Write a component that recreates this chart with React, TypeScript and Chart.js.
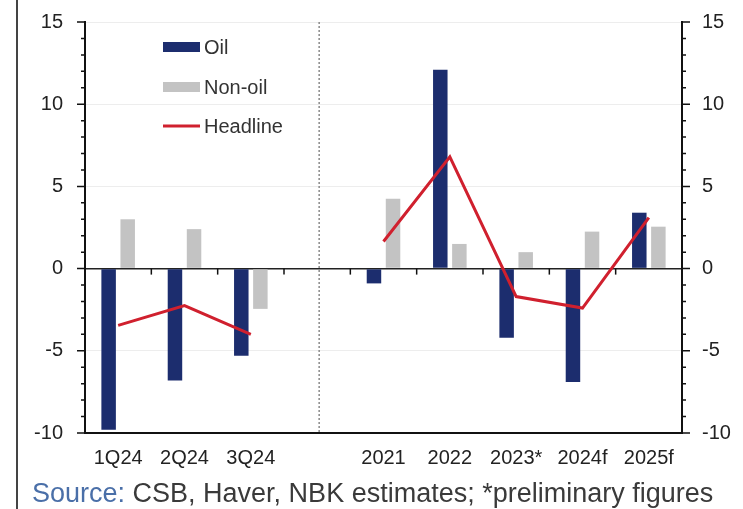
import React, { useEffect, useRef } from 'react';
import { Chart, registerables } from 'chart.js';

Chart.register(...registerables);

const categories = ['1Q24', '2Q24', '3Q24', '', '2021', '2022', '2023*', '2024f', '2025f'];
const oilValues = [-9.8, -6.8, -5.3, null, -0.9, 12.1, -4.2, -6.9, 3.4];
const nonOilValues = [3.0, 2.4, -2.45, null, 4.25, 1.5, 1.0, 2.25, 2.55];
const headlineValues = [-3.45, -2.25, -4.0, null, 1.65, 6.8, -1.7, -2.4, 3.1];
const seriesLabels = ['Oil', 'Non-oil', 'Headline'];
const yMin = -10;
const yMax = 15;
const yStep = 5;
const sourceLabel = 'Source:';
const sourceText = ' CSB, Haver, NBK estimates; *preliminary figures';

const FONT = '"Liberation Sans", Arial, Helvetica, sans-serif';
const OIL = '#1c2d6e';
const NONOIL = '#c3c3c3';
const HEAD = '#d0202e';

const decorPlugin = {
  id: 'decor',
  beforeDatasetsDraw(chart: any) {
    const { ctx, chartArea, scales } = chart;
    const x = scales.x;
    const sepIdx = categories.indexOf('');
    if (sepIdx >= 0) {
      const px = x.getPixelForValue(sepIdx) + 2;
      ctx.save();
      ctx.strokeStyle = '#8a8a8a';
      ctx.lineWidth = 1.5;
      ctx.setLineDash([2, 2]);
      ctx.beginPath();
      ctx.moveTo(px, chartArea.top);
      ctx.lineTo(px, chartArea.bottom);
      ctx.stroke();
      ctx.restore();
    }
  },
  afterDraw(chart: any) {
    const { ctx, chartArea, scales } = chart;
    const y = scales.y;
    const x = scales.x;
    ctx.save();
    ctx.strokeStyle = '#111';
    ctx.lineWidth = 1.5;
    for (let v = yMin; v <= yMax; v += 1) {
      const py = y.getPixelForValue(v);
      const len = v % yStep === 0 ? 8 : 4;
      ctx.beginPath();
      ctx.moveTo(chartArea.left - len, py);
      ctx.lineTo(chartArea.left, py);
      ctx.moveTo(chartArea.right, py);
      ctx.lineTo(chartArea.right + len, py);
      ctx.stroke();
    }
    const zy = y.getPixelForValue(0);
    for (let i = 1; i < categories.length; i++) {
      const bx = (x.getPixelForValue(i - 1) + x.getPixelForValue(i)) / 2;
      ctx.beginPath();
      ctx.moveTo(bx, zy);
      ctx.lineTo(bx, zy + 6);
      ctx.stroke();
    }
    ctx.restore();

    const lx = chartArea.left + 78;
    const rows = [
      { label: seriesLabels[0], color: OIL, kind: 'box', y: 47 },
      { label: seriesLabels[1], color: NONOIL, kind: 'box', y: 87 },
      { label: seriesLabels[2], color: HEAD, kind: 'line', y: 126 },
    ];
    ctx.save();
    ctx.font = `20px ${FONT}`;
    ctx.textBaseline = 'middle';
    ctx.textAlign = 'left';
    rows.forEach((r) => {
      if (r.kind === 'box') {
        ctx.fillStyle = r.color;
        ctx.fillRect(lx, r.y - 5, 37, 10);
      } else {
        ctx.strokeStyle = r.color;
        ctx.lineWidth = 3;
        ctx.beginPath();
        ctx.moveTo(lx, r.y);
        ctx.lineTo(lx + 37, r.y);
        ctx.stroke();
      }
      ctx.fillStyle = '#333';
      ctx.fillText(r.label, lx + 41, r.y + 1);
    });
    ctx.restore();
  },
};

export default function App() {
  const canvasRef = useRef<HTMLCanvasElement | null>(null);

  useEffect(() => {
    if (!canvasRef.current) return;
    const tickFont = { family: FONT, size: 20 };
    const chart = new Chart(canvasRef.current, {
      type: 'bar',
      data: {
        labels: categories,
        datasets: [
          {
            type: 'line',
            label: seriesLabels[2],
            data: headlineValues,
            borderColor: HEAD,
            backgroundColor: HEAD,
            borderWidth: 3,
            pointRadius: 0,
            spanGaps: false,
            tension: 0,
            order: 1,
            yAxisID: 'y',
          } as any,
          {
            type: 'bar',
            label: seriesLabels[0],
            data: oilValues,
            backgroundColor: OIL,
            categoryPercentage: 0.575,
            barPercentage: 0.76,
            order: 2,
            yAxisID: 'y',
          },
          {
            type: 'bar',
            label: seriesLabels[1],
            data: nonOilValues,
            backgroundColor: NONOIL,
            categoryPercentage: 0.575,
            barPercentage: 0.76,
            order: 3,
            yAxisID: 'y',
          },
        ],
      },
      options: {
        animation: false,
        responsive: false,
        maintainAspectRatio: false,
        layout: { padding: { top: 22, left: 0, right: 0, bottom: 0 } },
        plugins: { legend: { display: false }, tooltip: { enabled: false } },
        scales: {
          x: {
            grid: { display: true, drawOnChartArea: false, drawTicks: false },
            border: { color: '#111', width: 2 },
            ticks: { font: tickFont, color: '#222', padding: 13, maxRotation: 0, autoSkip: false },
            afterFit: (s: any) => { s.height = 76; },
          },
          y: {
            position: 'left',
            min: yMin,
            max: yMax,
            ticks: { stepSize: yStep, padding: 22, font: tickFont, color: '#222' },
            grid: {
              color: (c: any) => (c.tick && c.tick.value === 0 ? '#222' : '#ededed'),
              lineWidth: (c: any) => (c.tick && c.tick.value === 0 ? 1.5 : 1),
              drawTicks: false,
            },
            border: { color: '#111', width: 2 },
            afterFit: (s: any) => { s.width = 85; s.paddingTop = 0; s.paddingBottom = 0; },
          },
          y2: {
            position: 'right',
            min: yMin,
            max: yMax,
            ticks: { stepSize: yStep, padding: 20, font: tickFont, color: '#222' },
            grid: { drawOnChartArea: false, drawTicks: false },
            border: { color: '#111', width: 2 },
            afterFit: (s: any) => { s.width = 61; s.paddingTop = 0; s.paddingBottom = 0; },
          },
        },
      } as any,
      plugins: [decorPlugin],
    });
    return () => chart.destroy();
  }, []);

  return (
    <div style={{ position: 'absolute', left: 0, top: 0, width: 743, height: 509, background: '#fff', overflow: 'hidden' }}>
      <canvas ref={canvasRef} width={743} height={509} style={{ display: 'block', position: 'absolute', left: 0, top: 0 }} />
      <div style={{ position: 'absolute', left: 16, top: 0, width: 2, height: 509, background: '#444' }} />
      <div
        style={{
          position: 'absolute',
          left: 32,
          top: 480,
          fontFamily: FONT,
          fontSize: 27,
          lineHeight: '27px',
          whiteSpace: 'nowrap',
          color: '#3a3a3a',
        }}
      >
        <span style={{ color: '#4a6fa8' }}>{sourceLabel}</span>
        <span>{sourceText}</span>
      </div>
    </div>
  );
}
